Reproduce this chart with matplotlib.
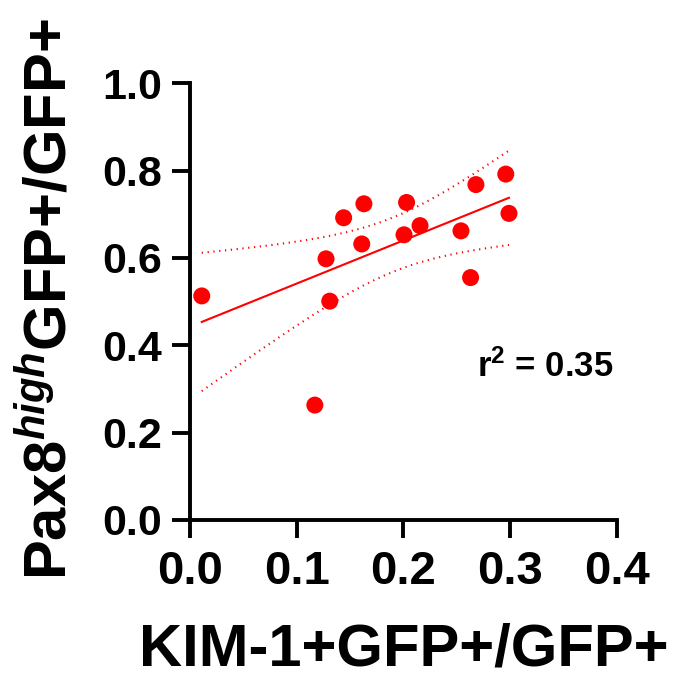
import matplotlib
matplotlib.use('Agg')
import matplotlib.pyplot as plt
import numpy as np

plt.rcParams['font.family'] = 'Liberation Sans'
plt.rcParams['font.weight'] = 'bold'
plt.rcParams['mathtext.fontset'] = 'custom'
plt.rcParams['mathtext.rm'] = 'Liberation Sans:bold'
plt.rcParams['mathtext.it'] = 'Liberation Sans:italic'
plt.rcParams['mathtext.bf'] = 'Liberation Sans:bold'

# KIM-1+GFP+/GFP+ vs Pax8 high GFP+/GFP+
kim1 = [0.011, 0.117, 0.1275, 0.131, 0.144, 0.163, 0.161, 0.203, 0.2006,
        0.2156, 0.254, 0.263, 0.268, 0.296, 0.299]
pax8 = [0.513, 0.263, 0.598, 0.501, 0.692, 0.724, 0.632, 0.727, 0.653,
        0.674, 0.662, 0.555, 0.768, 0.792, 0.702]
r2_label = 'r$^2$ = 0.35'

x = np.array(kim1)
y = np.array(pax8)
n = len(x)

# linear fit + 95% confidence band
slope, icpt = np.polyfit(x, y, 1)
res = y - (slope * x + icpt)
s = np.sqrt(np.sum(res**2) / (n - 2))
tval = 2.160  # t(0.975, df=13)
xf = np.linspace(x.min(), x.max(), 200)
yf = slope * xf + icpt
se = s * np.sqrt(1.0 / n + (xf - x.mean())**2 / np.sum((x - x.mean())**2))

fig = plt.figure(figsize=(6.86, 6.77), dpi=100)
ax = fig.add_axes([0.277, 0.232, 0.622, 0.645])

red = '#ff0000'
ax.plot(xf, yf, color=red, lw=1.5)
ax.plot(xf, yf + tval * se, color=red, lw=1.5, ls=(0, (0.6, 2.2)))
ax.plot(xf, yf - tval * se, color=red, lw=1.5, ls=(0, (0.6, 2.2)))
ax.scatter(x, y, s=150, color=red, edgecolors='none', zorder=3, clip_on=False)

ax.set_xlim(0, 0.4)
ax.set_ylim(0, 1.0)
ax.set_xticks([0.0, 0.1, 0.2, 0.3, 0.4])
ax.set_yticks([0.0, 0.2, 0.4, 0.6, 0.8, 1.0])
ax.xaxis.set_major_formatter(matplotlib.ticker.FormatStrFormatter('%.1f'))
ax.yaxis.set_major_formatter(matplotlib.ticker.FormatStrFormatter('%.1f'))

for sp in ['top', 'right']:
    ax.spines[sp].set_visible(False)
for sp in ['left', 'bottom']:
    ax.spines[sp].set_linewidth(2.8)
ax.tick_params(axis='x', width=2.8, length=13, labelsize=34, pad=9)
ax.tick_params(axis='y', width=2.8, length=13, labelsize=31, pad=7)

ax.set_xlabel('KIM-1+GFP+/GFP+', fontsize=43, fontweight='bold', labelpad=20)
ax.set_ylabel('Pax8$^{\\mathit{high}}$GFP+/GFP+', fontsize=43, fontweight='bold')
ax.yaxis.set_label_coords(-0.262, 0.505)

ax.text(0.269, 0.327, r2_label, fontsize=25, fontweight='bold')

fig.savefig('out.png', dpi=100)
